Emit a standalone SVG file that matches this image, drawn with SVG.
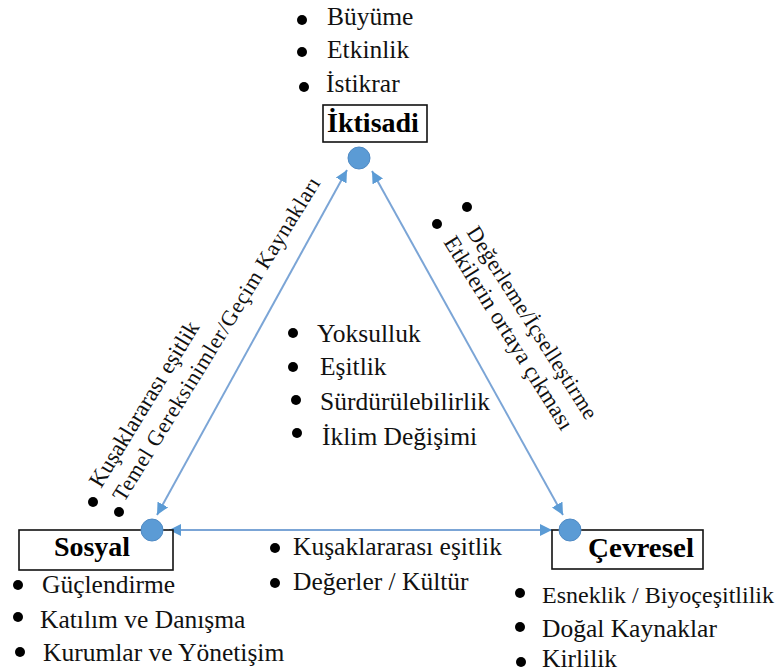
<svg xmlns="http://www.w3.org/2000/svg" width="782" height="672" viewBox="0 0 782 672" font-family="'Liberation Serif', 'Times New Roman', serif">
<style>
.t{font-size:25.5px;fill:#111}
.r{fill:#111}
.b{font-size:28px;font-weight:bold;fill:#000}
.box{fill:#fff;stroke:#111;stroke-width:1.6}
.dot{fill:#000}
.hub{fill:#5b9bd5;stroke:#4f8ac4;stroke-width:1}
.con{stroke:#7ba5d6;stroke-width:2;fill:none;marker-start:url(#ah);marker-end:url(#ah)}
</style>
<defs>
<marker id="ah" viewBox="0 0 12 12" refX="12" refY="6" markerWidth="12" markerHeight="12" markerUnits="userSpaceOnUse" orient="auto-start-reverse">
<path d="M0,0 L12,6 L0,12 z" fill="#5b9bd5"/>
</marker>
</defs>
<rect width="782" height="672" fill="#fff"/>

<g id="connectors">
<line class="con" x1="347" y1="170" x2="157" y2="515"/>
<line class="con" x1="372" y1="171" x2="563" y2="515"/>
<line class="con" x1="169" y1="530" x2="552" y2="530"/>
</g>

<g id="iktisadi">
<circle class="dot" cx="302" cy="20" r="5"/>
<circle class="dot" cx="302" cy="52" r="5"/>
<circle class="dot" cx="304" cy="87" r="5"/>
<text class="t" x="327" y="25">Büyüme</text>
<text class="t" x="327" y="58">Etkinlik</text>
<text class="t" x="326" y="92">İstikrar</text>
<rect class="box" x="323" y="105" width="104" height="37"/>
<text class="b" x="373" y="132" text-anchor="middle">İktisadi</text>
<circle class="hub" cx="359" cy="158" r="11"/>
</g>

<g id="sosyal">
<rect class="box" x="19" y="530" width="154" height="40"/>
<text class="b" x="92" y="556" text-anchor="middle">Sosyal</text>
<circle class="hub" cx="152" cy="530" r="11"/>
<circle class="dot" cx="18" cy="585" r="5"/>
<circle class="dot" cx="18" cy="617" r="5"/>
<circle class="dot" cx="20" cy="652" r="5"/>
<text class="t" x="42" y="593">Güçlendirme</text>
<text class="t" x="40" y="628">Katılım ve Danışma</text>
<text class="t" x="43" y="661">Kurumlar ve Yönetişim</text>
</g>

<g id="cevresel">
<rect class="box" x="552" y="530" width="151" height="39"/>
<text class="b" x="588" y="557" textLength="106" lengthAdjust="spacingAndGlyphs">Çevresel</text>
<circle class="hub" cx="570" cy="530" r="11"/>
<circle class="dot" cx="520" cy="593" r="5"/>
<circle class="dot" cx="520" cy="627" r="5"/>
<circle class="dot" cx="521" cy="662" r="5"/>
<text class="t" x="542" y="603" style="font-size:24px">Esneklik / Biyoçeşitlilik</text>
<text class="t" x="542" y="637">Doğal Kaynaklar</text>
<text class="t" x="542" y="667">Kirlilik</text>
</g>

<g id="merkez">
<circle class="dot" cx="293" cy="333" r="5"/>
<circle class="dot" cx="293" cy="367" r="5"/>
<circle class="dot" cx="296" cy="400" r="5"/>
<circle class="dot" cx="297" cy="433" r="5"/>
<text class="t" x="317" y="342">Yoksulluk</text>
<text class="t" x="320" y="375">Eşitlik</text>
<text class="t" x="320" y="410">Sürdürülebilirlik</text>
<text class="t" x="322" y="445">İklim Değişimi</text>
</g>

<g id="sosyal-cevresel">
<circle class="dot" cx="275" cy="548" r="5"/>
<circle class="dot" cx="275" cy="583" r="5"/>
<text class="t" x="293" y="555">Kuşaklararası eşitlik</text>
<text class="t" x="293" y="590">Değerler / Kültür</text>
</g>

<g id="sosyal-iktisadi">
<circle class="dot" cx="93" cy="502" r="5"/>
<circle class="dot" cx="119" cy="512" r="5"/>
<text class="r" font-size="23" transform="translate(101,489) rotate(-58.6)" textLength="190" lengthAdjust="spacing">Kuşaklararası eşitlik</text>
<text class="r" font-size="22" transform="translate(124,503) rotate(-58.4)" textLength="376" lengthAdjust="spacing">Temel Gereksinimler/Geçim Kaynakları</text>
</g>

<g id="iktisadi-cevresel">
<circle class="dot" cx="467" cy="207" r="5"/>
<circle class="dot" cx="437" cy="224" r="5"/>
<text class="r" font-size="22" transform="translate(466,232) rotate(57.5)" textLength="224" lengthAdjust="spacing">Değerleme/İçselleştirme</text>
<text class="r" font-size="23" transform="translate(443,242) rotate(58)" textLength="224" lengthAdjust="spacing">Etkilerin ortaya çıkması</text>
</g>
</svg>
